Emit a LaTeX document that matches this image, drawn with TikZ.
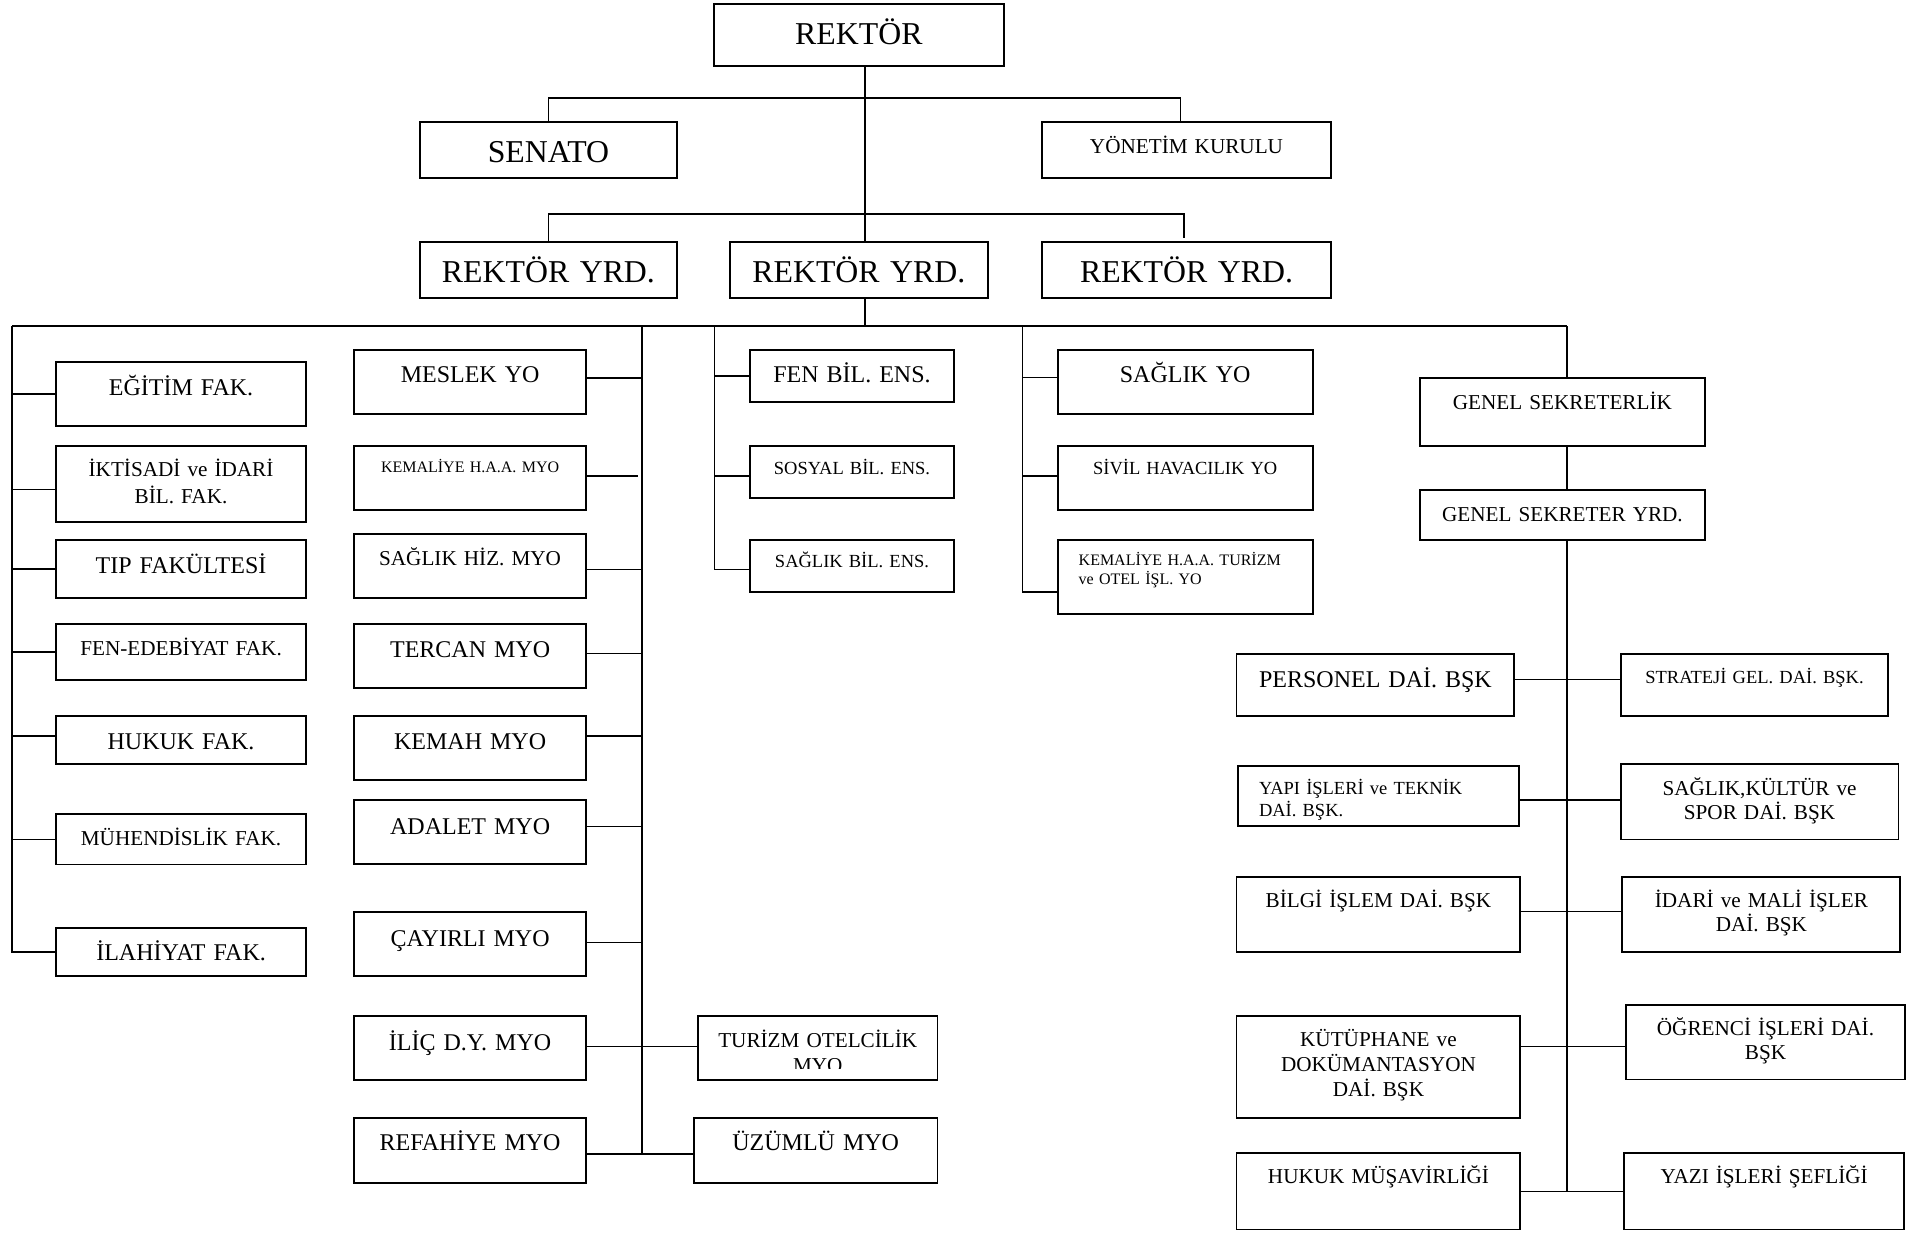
\documentclass[tikz,border=0pt]{standalone}
\usepackage{fontspec}
\setmainfont{Liberation Serif}
\usetikzlibrary{positioning}

\newcommand\fsBig{\fontsize{9.05pt}{10.9pt}\selectfont}
\newcommand\fsMed{\fontsize{6.83pt}{8pt}\selectfont}
\newcommand\fsSmall{\fontsize{6.03pt}{7.05pt}\selectfont}
\newcommand\fsSmaller{\fontsize{5.26pt}{6.2pt}\selectfont}
\newcommand\fsTiny{\fontsize{4.55pt}{5.4pt}\selectfont}

\tikzset{
  box/.style={draw, line width=.55pt, inner sep=0pt, outer sep=0pt, align=center, font=\fsMed},
  dims/.style n args={3}{text width=#1, text height=#2, text depth=#3},
  link/.style={line width=.45pt},
}

\begin{document}
\begin{tikzpicture}[x=0.1mm, y=-0.1mm]
\useasboundingbox (0,0) rectangle (1924,1233);

% ======================================
% REKTOR, SENATO, YONETIM KURULU, YARDIMCILAR
% ======================================
\node[box, font=\fsBig, dims={28.97mm}{4.07mm}{2.13mm}, anchor=north west] (rektor) at (714,4) {REKTÖR};
\node[box, font=\fsBig, dims={25.77mm}{4.05mm}{1.55mm}, below=17.57mm of rektor] (yrd2) {REKTÖR YRD.};
\node[box, font=\fsBig, dims={25.77mm}{4.05mm}{1.55mm}, left=5.27mm of yrd2] (yrd1) {REKTÖR YRD.};
\node[box, font=\fsBig, dims={28.96mm}{4.05mm}{1.55mm}, right=5.4mm of yrd2] (yrd3) {REKTÖR YRD.};
\node[box, font=\fsBig, dims={25.77mm}{4.04mm}{1.59mm}, above=6.37mm of yrd1] (senato) {SENATO};
\node[box, font=\fsSmall, dims={28.96mm}{3.19mm}{2.44mm}, above=6.37mm of yrd3] (yonetim) {YÖNETİM KURULU};

\coordinate (spine) at (865,326);
\coordinate (kurul) at (1180.4,97.7);
\coordinate (yrdbar) at (1184,213.7);
\draw[link] (rektor.south -| spine) -- (yrd2.north -| spine);
\draw[link] (yrd2.south -| spine) -- (spine);
\draw[link] (senato.north) |- (kurul) -- (kurul |- yonetim.north);
\draw[link] (yrd1.north) |- (yrdbar) -- ++(0,24.6);

% ======================================
% MAIN BAR
% ======================================
\coordinate (fakline) at (12,326);
\coordinate (myoline) at (642,326);
\coordinate (ensline) at (714.4,326);
\coordinate (yoline) at (1022.4,326);
\coordinate (genline) at (1567,326);
\draw[link] (fakline) -- (genline);

% ======================================
% FAKULTELER
% ======================================
\node[box, dims={25.05mm}{3.37mm}{3.06mm}, anchor=north west] (egitim) at (55.8,361.7) {EĞİTİM FAK.};
\node[box, font=\fontsize{6.03pt}{7.68pt}\selectfont, dims={25.05mm}{3.0mm}{4.57mm}, below=2mm of egitim] (iktisadi) {İKTİSADİ ve İDARİ\\BİL. FAK.};
\node[box, dims={25.05mm}{3.32mm}{2.45mm}, below=1.83mm of iktisadi] (tip) {TIP FAKÜLTESİ};
\node[box, font=\fsSmall, dims={25.05mm}{3.13mm}{2.47mm}, below=2.63mm of tip] (fenedeb) {FEN-EDEBİYAT FAK.};
\node[box, dims={25.05mm}{3.34mm}{1.48mm}, below=3.6mm of fenedeb] (hukuk) {HUKUK FAK.};
\node[box, font=\fsSmall, dims={25.05mm}{3.11mm}{1.92mm}, below=5mm of hukuk] (muh) {MÜHENDİSLİK FAK.};
\node[box, dims={25.05mm}{3.16mm}{1.6mm}, below=6.39mm of muh] (ilahiyat) {İLAHİYAT FAK.};

\draw[link] (fakline) |- (ilahiyat.west);
\draw[link] (egitim.west) -- (egitim.west -| fakline);
\draw[link] ([yshift=-.55mm]iktisadi.west) -- ([yshift=-.55mm]iktisadi.west -| fakline);
\draw[link] (tip.west) -- (tip.west -| fakline);
\draw[link] (fenedeb.west) -- (fenedeb.west -| fakline);
\draw[link] ([yshift=.44mm]hukuk.west) -- ([yshift=.44mm]hukuk.west -| fakline);
\draw[link] (muh.west) -- (muh.west -| fakline);

% ======================================
% MESLEK YUKSEKOKULLARI
% ======================================
\node[box, dims={23.22mm}{3.29mm}{3.11mm}, anchor=north west] (meslek) at (354,350) {MESLEK YO};
\node[box, font=\fsTiny, dims={23.22mm}{2.63mm}{3.77mm}, below=3.2mm of meslek] (kemaliye) {KEMALİYE H.A.A. MYO};
\node[box, font=\fsSmall, dims={23.22mm}{3.13mm}{3.24mm}, below=2.4mm of kemaliye] (saglikhiz) {SAĞLIK HİZ. MYO};
\node[box, dims={23.22mm}{3.39mm}{3.01mm}, below=2.63mm of saglikhiz] (tercan) {TERCAN MYO};
\node[box, dims={23.22mm}{3.34mm}{3.08mm}, below=2.8mm of tercan] (kemah) {KEMAH MYO};
\node[box, dims={23.22mm}{3.4mm}{3.02mm}, below=1.98mm of kemah] (adalet) {ADALET MYO};
\node[box, dims={23.22mm}{3.38mm}{2.98mm}, below=4.82mm of adalet] (cayirli) {ÇAYIRLI MYO};
\node[box, dims={23.22mm}{3.41mm}{2.98mm}, below=4.01mm of cayirli] (ilic) {İLİÇ D.Y. MYO};
\node[box, dims={23.22mm}{3.21mm}{3.22mm}, below=3.84mm of ilic] (refahiye) {REFAHİYE MYO};
\node[box, minimum width=23.95mm, minimum height=6.39mm, right=11.18mm of ilic] (turizm) {};
\begin{scope}
  \clip (turizm.north west) rectangle ([yshift=1.15mm]turizm.south east);
  \node[font=\fsSmall, align=center, inner sep=0pt, text width=23.95mm, text height=3.06mm, text depth=0pt, anchor=north] (turizmtxt) at (turizm.north) {TURİZM OTELCİLİK\\MYO};
\end{scope}
\node[box, dims={24.35mm}{3.21mm}{3.22mm}, right=10.78mm of refahiye] (uzumlu) {ÜZÜMLÜ MYO};

\draw[link] (myoline) -- ([yshift=-.33mm]refahiye.east -| myoline);
\draw[link] ([yshift=.43mm]meslek.east) -- ([yshift=.43mm]meslek.east -| myoline);
\draw[link] ([yshift=.23mm]kemaliye.east) -- ++(52.2,0);
\draw[link] ([yshift=-.35mm]saglikhiz.east) -- ([yshift=-.35mm]saglikhiz.east -| myoline);
\draw[link] ([yshift=.27mm]tercan.east) -- ([yshift=.27mm]tercan.east -| myoline);
\draw[link] ([yshift=1.24mm]kemah.east) -- ([yshift=1.24mm]kemah.east -| myoline);
\draw[link] ([yshift=.57mm]adalet.east) -- ([yshift=.57mm]adalet.east -| myoline);
\draw[link] ([yshift=.18mm]cayirli.east) -- ([yshift=.18mm]cayirli.east -| myoline);
\draw[link] ([yshift=.17mm]ilic.east) -- ([yshift=.17mm]turizm.west);
\draw[link] ([yshift=-.33mm]refahiye.east) -- ([yshift=-.33mm]uzumlu.west);

% ======================================
% ENSTITULER
% ======================================
\node[box, dims={20.4mm}{3.29mm}{1.91mm}, anchor=north west] (fenbil) at (750,350) {FEN BİL. ENS.};
\node[box, font=\fsSmaller, dims={20.4mm}{2.8mm}{2.37mm}, below=4.4mm of fenbil] (sosyal) {SOSYAL BİL. ENS.};
\node[box, font=\fsSmaller, dims={20.4mm}{2.78mm}{2.45mm}, below=4.23mm of sosyal] (saglikbil) {SAĞLIK BİL. ENS.};

\draw[link] (ensline) |- ([yshift=-.32mm]saglikbil.west);
\draw[link] (fenbil.west) -- (fenbil.west -| ensline);
\draw[link] ([yshift=-.39mm]sosyal.west) -- ([yshift=-.39mm]sosyal.west -| ensline);

% ======================================
% YUKSEKOKULLAR
% ======================================
\node[box, dims={25.49mm}{3.29mm}{3.14mm}, anchor=north west] (saglikyo) at (1057.7,350) {SAĞLIK YO};
\node[box, font=\fsSmaller, dims={25.49mm}{2.8mm}{3.6mm}, below=3.17mm of saglikyo] (sivil) {SİVİL HAVACILIK YO};
\node[box, font=\fsTiny, dims={25.49mm}{2.52mm}{4.91mm}, text width=21.29mm, inner xsep=2.1mm, align=left, below=3mm of sivil] (kemtur) {KEMALİYE H.A.A. TURİZM\\ve OTEL İŞL. YO};

\draw[link] (yoline) |- ([yshift=-1.46mm]kemtur.west);
\draw[link] ([yshift=.45mm]saglikyo.west) -- ([yshift=.45mm]saglikyo.west -| yoline);
\draw[link] ([yshift=.23mm]sivil.west) -- ([yshift=.23mm]sivil.west -| yoline);

% ======================================
% GENEL SEKRETERLIK
% ======================================
\node[box, font=\fsSmall, dims={28.44mm}{3.2mm}{3.63mm}, anchor=north west] (gensek) at (1420.2,377.7) {GENEL SEKRETERLİK};
\node[box, font=\fsSmall, dims={28.44mm}{3.13mm}{1.87mm}, below=4.4mm of gensek] (gsyrd) {GENEL SEKRETER YRD.};

\node[box, dims={27.79mm}{3.35mm}{2.84mm}, anchor=north west] (personel) at (1236.5,654.4) {PERSONEL DAİ. BŞK};
\node[box, font=\fsSmaller, dims={28.07mm}{2.81mm}{3.17mm}, text width=23.85mm, inner xsep=2.11mm, align=left, below right=4.99mm and .14mm of personel.south west] (yapi) {YAPI İŞLERİ ve TEKNİK\\DAİ. BŞK.};
\node[box, font=\fsSmall, dims={28.39mm}{3.05mm}{4.47mm}, below right=5.06mm and -.14mm of yapi.south west] (bilgi) {BİLGİ İŞLEM DAİ. BŞK};
\node[box, font=\fsSmall, dims={28.39mm}{3.05mm}{7.15mm}, below right=6.42mm and 0mm of bilgi.south west] (kutup) {KÜTÜPHANE ve\\DOKÜMANTASYON\\DAİ. BŞK};
\node[box, font=\fsSmall, dims={28.39mm}{3.05mm}{4.58mm}, below right=3.52mm and 0mm of kutup.south west] (hukukmus) {HUKUK MÜŞAVİRLİĞİ};

\node[box, font=\fsSmaller, dims={26.78mm}{2.94mm}{3.25mm}, right=10.62mm of personel] (strateji) {STRATEJİ GEL. DAİ. BŞK.};
\node[box, font=\fsSmall, dims={27.79mm}{3.11mm}{4.44mm}, below right=4.77mm and 0mm of strateji.south west] (saglikkultur) {SAĞLIK,KÜLTÜR ve\\SPOR DAİ. BŞK};
\node[box, font=\fsSmall, dims={27.8mm}{3.04mm}{4.48mm}, below right=3.71mm and .18mm of saglikkultur.south west] (idari) {İDARİ ve MALİ İŞLER\\DAİ. BŞK};
\node[box, font=\fsSmall, dims={27.9mm}{3.03mm}{4.45mm}, below right=5.29mm and .36mm of idari.south west] (ogrenci) {ÖĞRENCİ İŞLERİ DAİ.\\BŞK};
\node[box, font=\fsSmall, dims={27.97mm}{3.05mm}{4.58mm}, below right=7.37mm and -.17mm of ogrenci.south west] (yazi) {YAZI İŞLERİ ŞEFLİĞİ};

\draw[link] (genline) -- (genline |- gensek.north);
\draw[link] (gensek.south -| genline) -- (gsyrd.north -| genline);
\draw[link] (gsyrd.south -| genline) -- (hukukmus.east -| genline);
\draw[link] ([yshift=.57mm]personel.east) -- ([yshift=.57mm]personel.east -| strateji.west);
\draw[link] ([yshift=-.41mm]yapi.east) -- ([yshift=-.41mm]yapi.east -| saglikkultur.west);
\draw[link] ([yshift=.28mm]bilgi.east) -- ([yshift=.28mm]bilgi.east -| idari.west);
\draw[link] ([yshift=2.07mm]kutup.east) -- ([yshift=2.07mm]kutup.east -| ogrenci.west);
\draw[link] (hukukmus.east) -- (hukukmus.east -| yazi.west);

\end{tikzpicture}
\end{document}
